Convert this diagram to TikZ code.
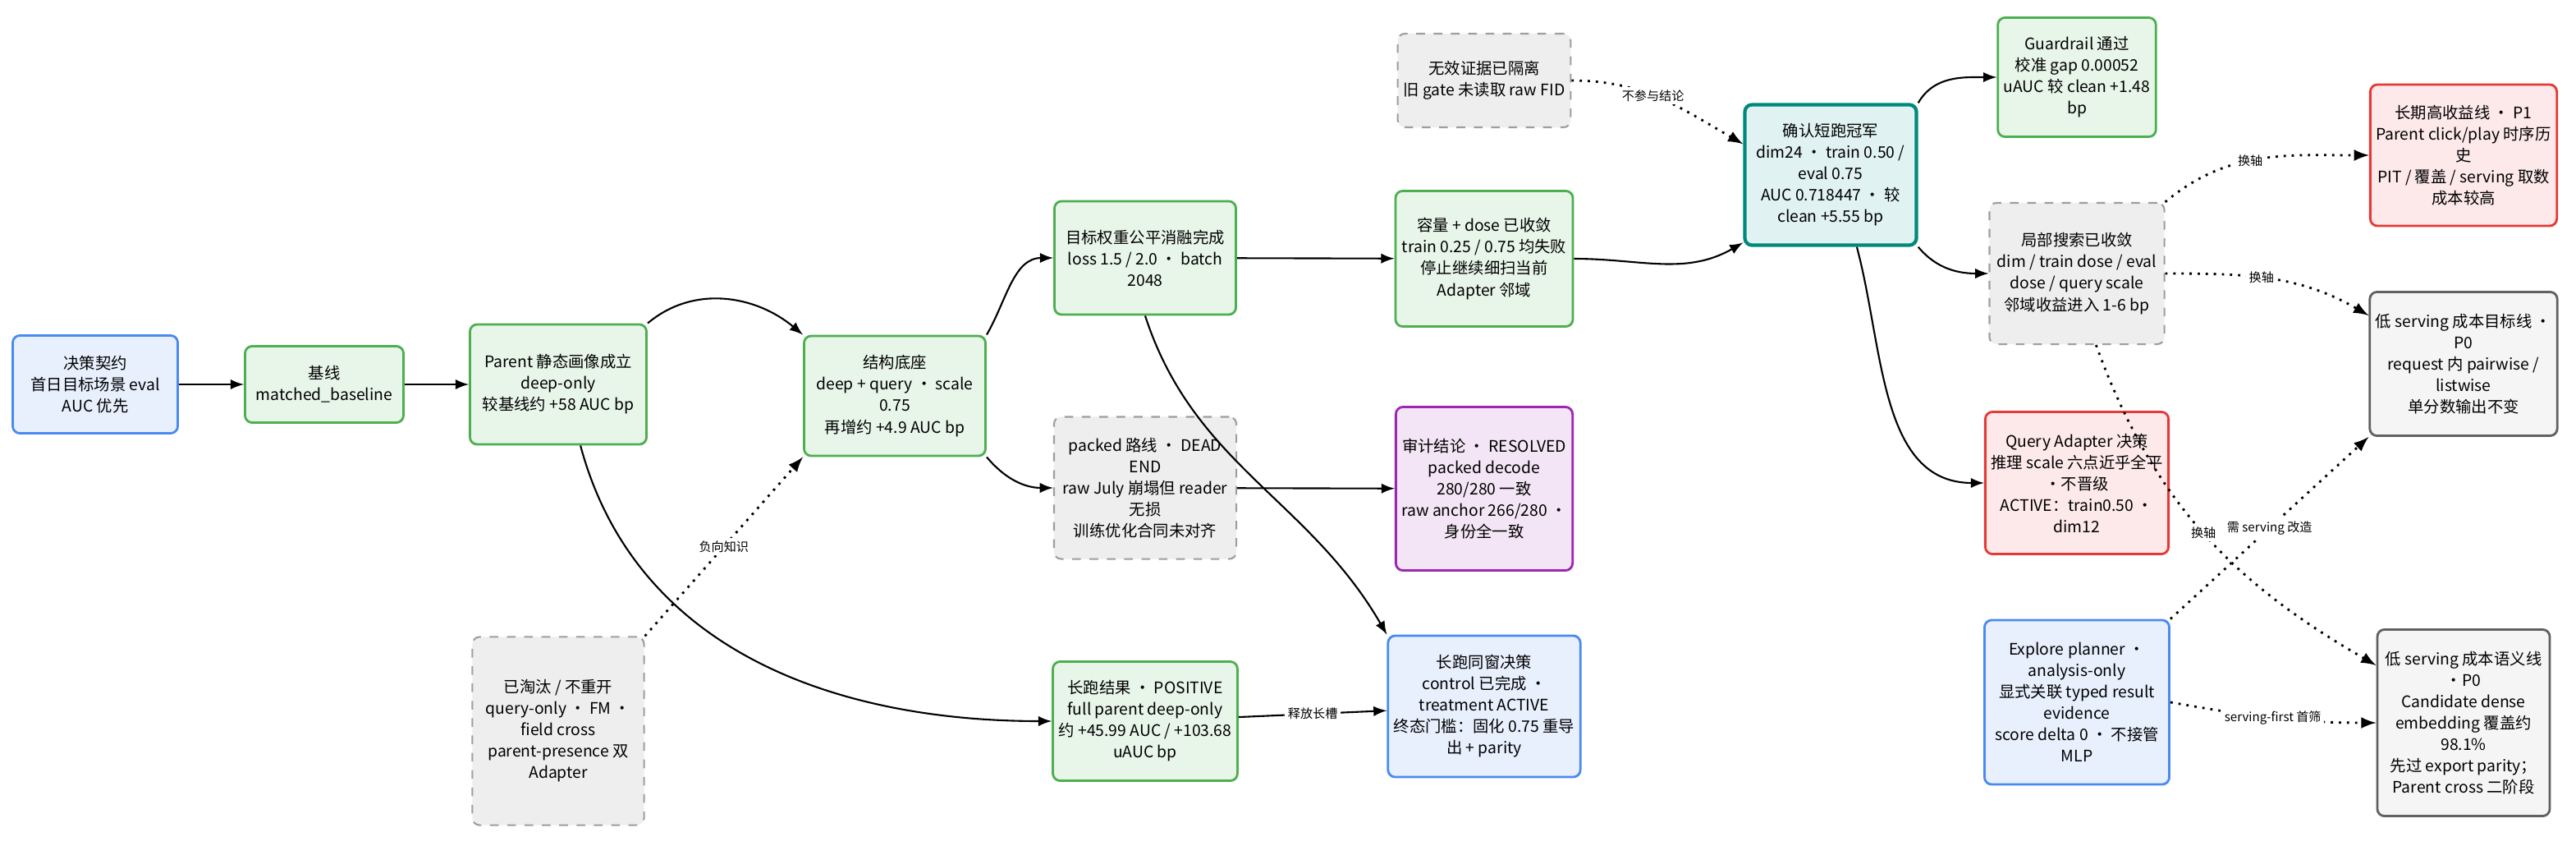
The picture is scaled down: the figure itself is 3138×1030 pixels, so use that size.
\documentclass[tikz,border=0pt]{standalone}
\usepackage{fontspec}
\setmainfont{Noto Sans CJK SC}
\usepackage{tikz}
\usetikzlibrary{positioning}

\definecolor{bluefill}{HTML}{E8F0FE}
\definecolor{blueline}{HTML}{4A8AF0}
\definecolor{greenfill}{HTML}{E8F5E9}
\definecolor{greenline}{HTML}{4CAF50}
\definecolor{grayfill}{HTML}{EEEEEE}
\definecolor{grayline}{HTML}{9E9E9E}
\definecolor{purplefill}{HTML}{F3E5F5}
\definecolor{purpleline}{HTML}{9C27B0}
\definecolor{tealfill}{HTML}{E0F2F1}
\definecolor{tealline}{HTML}{00897B}
\definecolor{redfill}{HTML}{FDE8EA}
\definecolor{redline}{HTML}{E53935}
\definecolor{plainfill}{HTML}{F5F5F5}
\definecolor{plainline}{HTML}{616161}

\tikzset{
  box/.style={rectangle, rounded corners=2.5pt, line width=0.8pt, align=center,
    font=\fontsize{5.5}{7.4}\selectfont, inner sep=2pt},
  bluebox/.style={box, fill=bluefill, draw=blueline},
  greenbox/.style={box, fill=greenfill, draw=greenline},
  graybox/.style={box, fill=grayfill, draw=grayline, dashed, line width=0.6pt},
  purplebox/.style={box, fill=purplefill, draw=purpleline},
  tealbox/.style={box, fill=tealfill, draw=tealline, line width=1.2pt},
  redbox/.style={box, fill=redfill, draw=redline},
  plainbox/.style={box, fill=plainfill, draw=plainline},
  arr/.style={-latex, line width=0.6pt},
  dotarr/.style={-latex, line width=0.8pt, dotted},
  lbl/.style={font=\fontsize{4.3}{5}\selectfont, fill=white, inner sep=1pt}
}

\begin{document}
\begin{tikzpicture}[x=0.01cm, y=-0.01cm]
  \useasboundingbox[fill=white] (0,0) rectangle (3138,1030);
  % left column
  \node[bluebox, minimum width=2.01cm, minimum height=1.19cm] (contract) at (116,468) {决策契约\\首日目标场景 eval\\AUC 优先};
  \node[greenbox, minimum width=1.93cm, minimum height=0.93cm] (baseline) at (395,468) {基线\\matched\_baseline};
  \node[greenbox, minimum width=2.15cm, minimum height=1.46cm] (parent) at (680,468) {Parent 静态画像成立\\deep-only\\较基线约 +58 AUC bp};
  \node[graybox, minimum width=2.09cm, minimum height=2.29cm] (dropped) at (680,890) {已淘汰 / 不重开\\query-only ・ FM ・\\field cross\\parent-presence 双\\Adapter};
  \node[greenbox, minimum width=2.21cm, minimum height=1.46cm] (struct) at (1090,482) {结构底座\\deep + query ・ scale\\0.75\\再增约 +4.9 AUC bp};
  % middle columns
  \node[greenbox, minimum width=2.21cm, minimum height=1.38cm] (weight) at (1395,314) {目标权重公平消融完成\\loss 1.5 / 2.0 ・ batch\\2048};
  \node[graybox, minimum width=2.22cm, minimum height=1.73cm] (packed) at (1395,594) {packed 路线 ・ DEAD\\END\\raw July 崩塌但 reader\\无损\\训练优化合同未对齐};
  \node[greenbox, minimum width=2.22cm, minimum height=1.45cm] (longrun) at (1395,878) {长跑结果 ・ POSITIVE\\full parent deep-only\\约 +45.99 AUC / +103.68\\uAUC bp};
  \node[graybox, minimum width=2.06cm, minimum height=1.14cm] (invalid) at (1808,98) {无效证据已隔离\\旧 gate 未读取 raw FID};
  \node[greenbox, minimum width=2.16cm, minimum height=1.65cm] (dose) at (1808,315) {容量 + dose 已收敛\\train 0.25 / 0.75 均失败\\停止继续细扫当前\\Adapter 邻域};
  \node[purplebox, minimum width=2.14cm, minimum height=1.99cm] (audit) at (1808,595) {审计结论 ・ RESOLVED\\packed decode\\280/280 一致\\raw anchor 266/280 ・\\身份全一致};
  \node[bluebox, minimum width=2.2cm, minimum height=1.72cm] (window) at (1808,860) {长跑同窗决策\\control 已完成 ・\\treatment ACTIVE\\终态门槛：固化 0.75 重导\\出 + parity};
  % right columns
  \node[tealbox, minimum width=2.09cm, minimum height=1.71cm] (champ) at (2230,213) {确认短跑冠军\\dim24 ・ train 0.50 /\\eval 0.75\\AUC 0.718447 ・ 较\\clean +5.55 bp};
  \node[greenbox, minimum width=1.89cm, minimum height=1.45cm] (guard) at (2530,94) {Guardrail 通过\\校准 gap 0.00052\\uAUC 较 clean +1.48\\bp};
  \node[graybox, minimum width=2.13cm, minimum height=1.72cm] (local) at (2530,333) {局部搜索已收敛\\dim / train dose / eval\\dose / query scale\\邻域收益进入 1-6 bp};
  \node[redbox, minimum width=2.2cm, minimum height=1.73cm] (qadapter) at (2530,588) {Query Adapter 决策\\推理 scale 六点近乎全平\\・不晋级\\ACTIVE：train0.50 ・\\dim12};
  \node[bluebox, minimum width=2.25cm, minimum height=2.0cm] (explore) at (2530,855) {Explore planner ・\\analysis-only\\显式关联 typed result\\evidence\\score delta 0 ・ 不接管\\MLP};
  \node[redbox, minimum width=2.23cm, minimum height=1.72cm] (highgain) at (3001,189) {长期高收益线 ・ P1\\Parent click/play 时序历\\史\\PIT / 覆盖 / serving 取数\\成本较高};
  \node[plainbox, minimum width=2.21cm, minimum height=1.75cm] (lowtarget) at (3001,443) {低 serving 成本目标线 ・\\P0\\request 内 pairwise /\\listwise\\单分数输出不变};
  \node[plainbox, minimum width=2.1cm, minimum height=2.27cm] (lowsem) at (3001,880) {低 serving 成本语义线\\・P0\\Candidate dense\\embedding 覆盖约\\98.1\%\\先过 export parity；\\Parent cross 二阶段};

  % connectors
  \draw[arr] (contract) -- (baseline);
  \draw[arr] (baseline) -- (parent);
  \draw[arr] (parent.north east) to[out=40,in=140] (struct.north west);
  \draw[arr] (parent.290) to[out=-75,in=180] (longrun.west);
  \draw[dotarr] (dropped.north east) -- node[lbl] {负向知识} (struct.south west);
  \draw[arr] (struct.north east) to[out=60,in=180] (weight.west);
  \draw[arr] (struct.south east) to[out=-50,in=180] (packed.west);
  \draw[arr] (weight) -- (dose);
  \draw[arr] (weight.south) to[out=-72,in=120] (window.north west);
  \draw[arr] (packed) -- (audit);
  \draw[arr] (longrun) -- node[lbl] {释放长槽} (window);
  \draw[arr] (dose.east) to[out=0,in=210] ([yshift=-1.7cm]champ.north west);
  \draw[dotarr] (invalid.east) to[out=0,in=150] node[lbl, pos=0.45] {不参与结论} ([yshift=-0.5cm]champ.north west);
  \draw[arr] (champ.north east) to[out=60,in=180] (guard.west);
  \draw[arr] (champ.south east) to[out=-50,in=180] (local.west);
  \draw[arr] (champ.290) to[out=-75,in=180] (qadapter.west);
  \draw[dotarr] (local.north east) to[out=40,in=180] node[lbl, pos=0.45] {换轴} (highgain.west);
  \draw[dotarr] (local.east) to[out=0,in=150] node[lbl, pos=0.45] {换轴} ([yshift=-0.3cm]lowtarget.north west);
  \draw[dotarr] (local.285) to[out=-70,in=150] node[lbl, pos=0.5] {换轴} ([yshift=-0.45cm]lowsem.north west);
  \draw[dotarr] (explore.north east) -- node[lbl, pos=0.5] {需 serving 改造} (lowtarget.south west);
  \draw[dotarr] (explore.east) to[out=-10,in=180] node[lbl] {serving-first 首筛} (lowsem.west);
\end{tikzpicture}
\end{document}
